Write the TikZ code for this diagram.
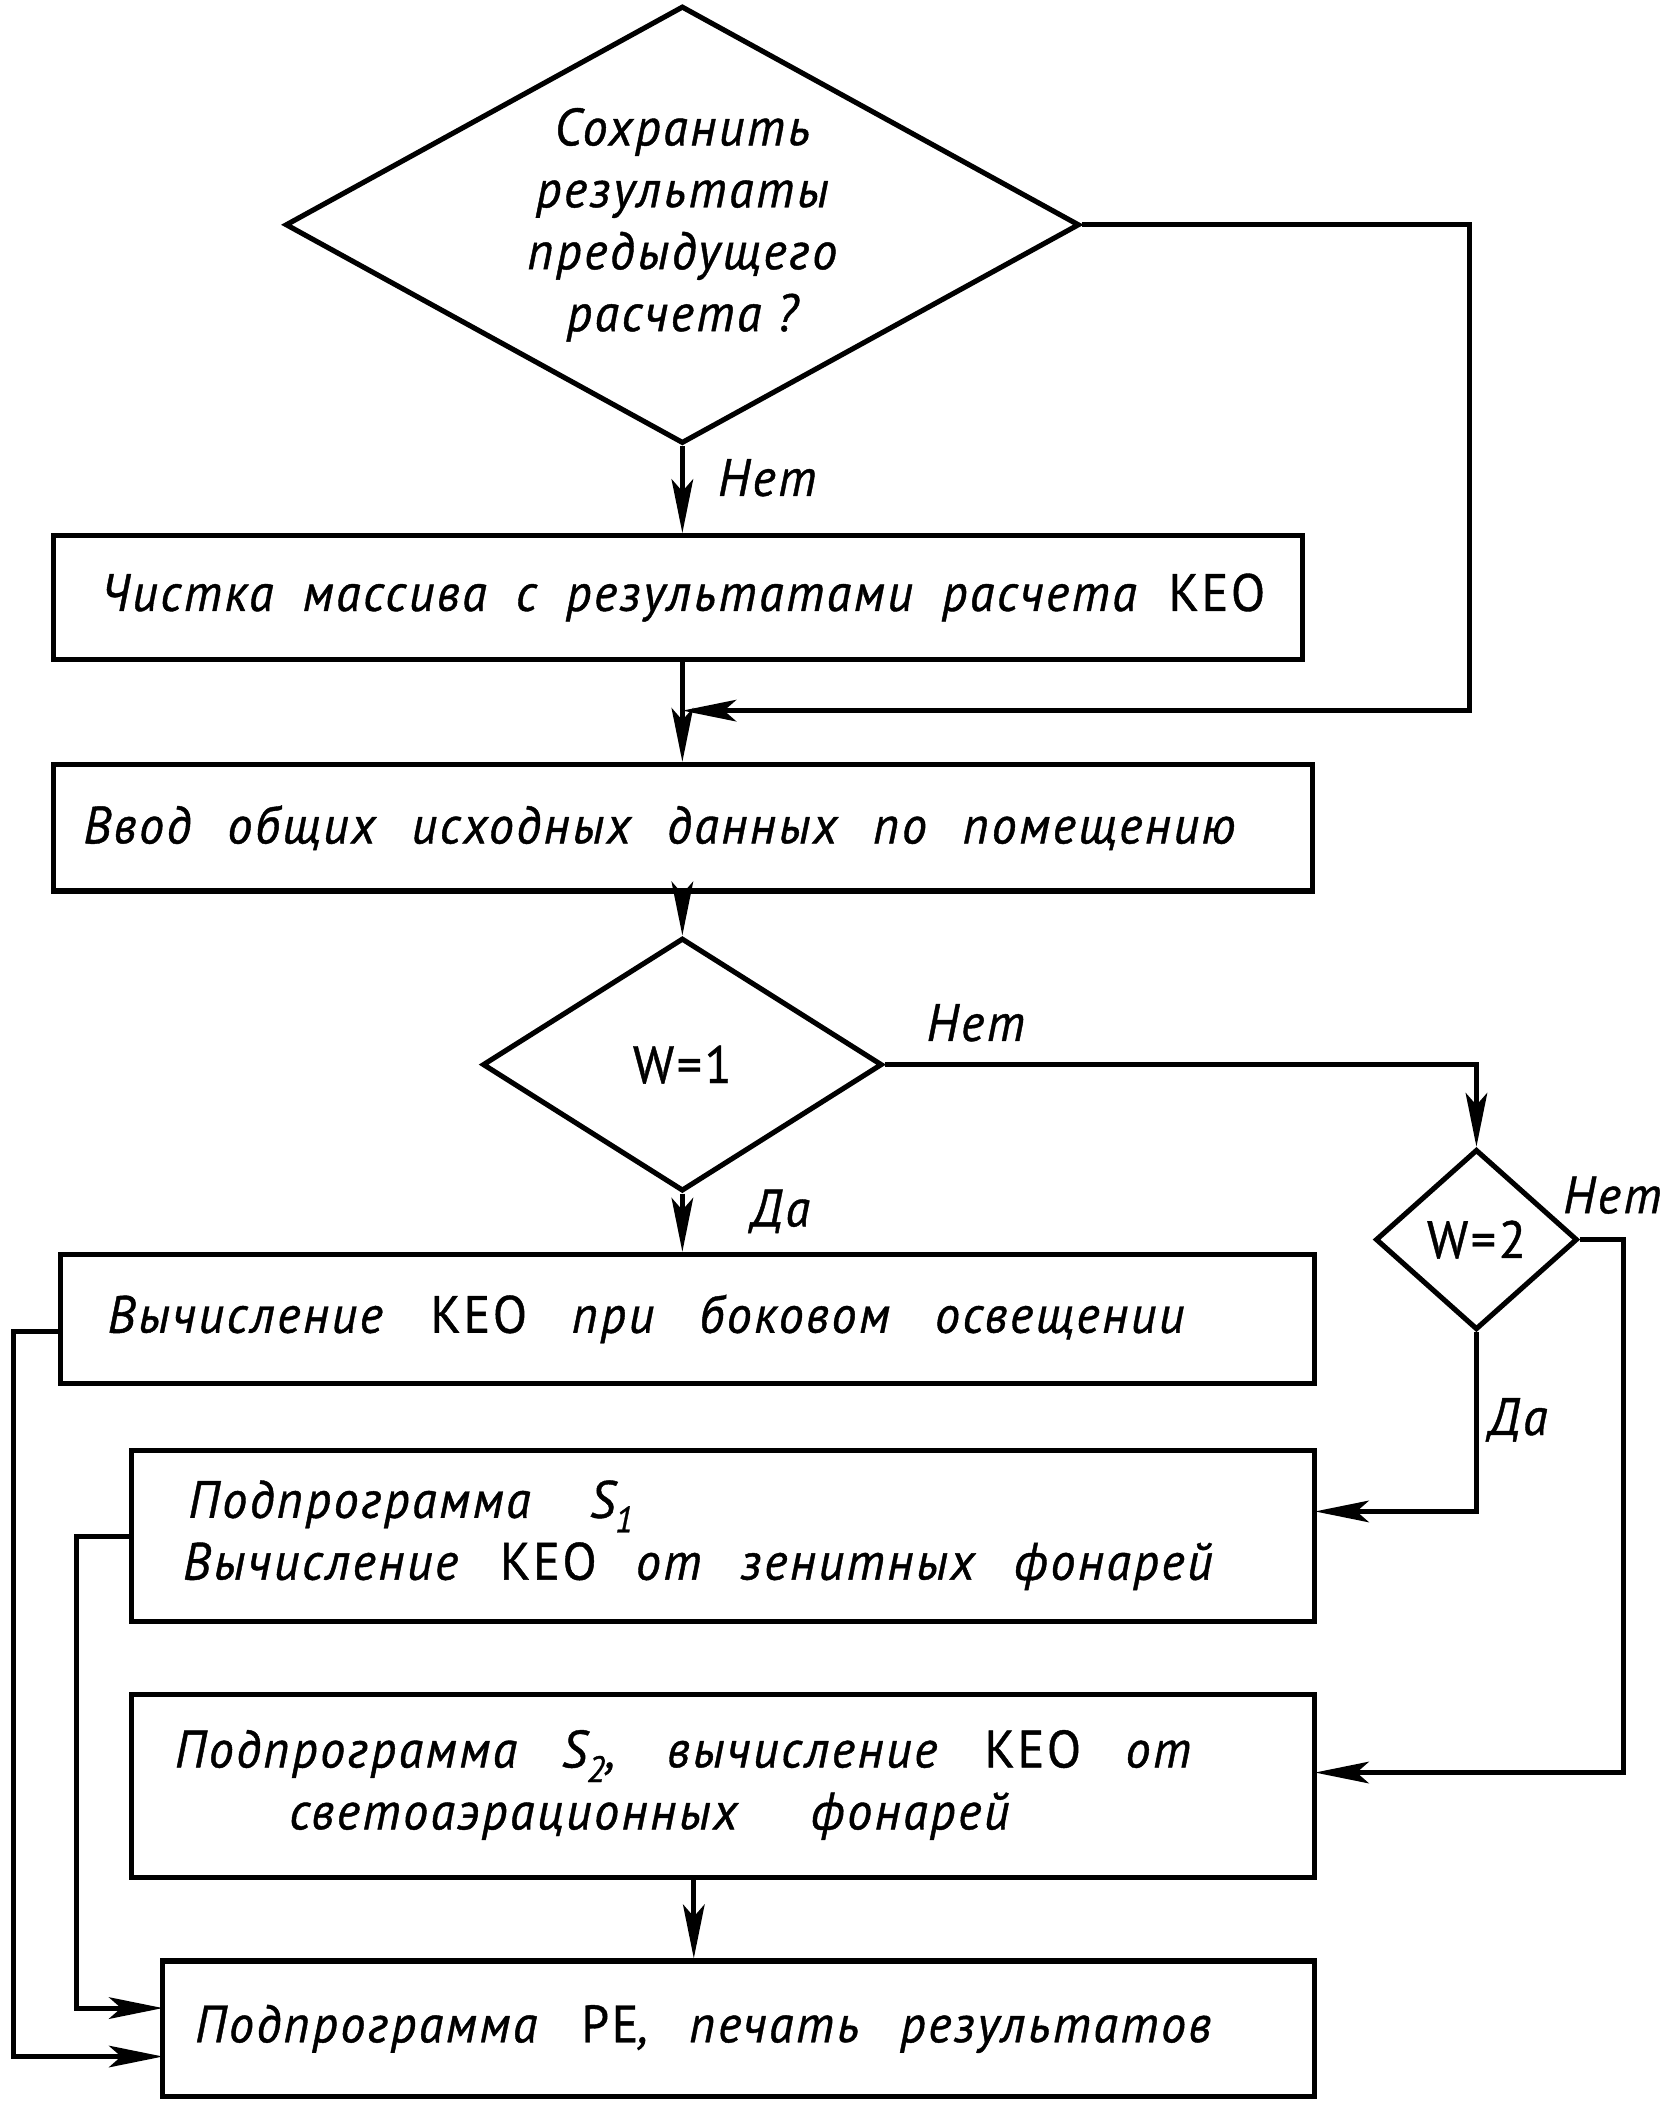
\documentclass[tikz,border=0pt]{standalone}
\usepackage{fontspec}
\setmainfont{PT Sans}[FakeStretch=0.95,LetterSpace=5,FakeBold=0.8]
\usetikzlibrary{shapes.geometric,arrows.meta}
\newcommand\gosttext{\fontsize{39}{46}\selectfont\itshape}
\begin{document}
\begin{tikzpicture}[x=1pt,y=-1pt,
  ln/.style={line width=3.8pt},
  box/.style={draw,ln,rectangle,inner sep=0pt,font=\gosttext},
  dia/.style={draw,ln,diamond,inner sep=0pt,font=\gosttext},
  lbl/.style={font=\gosttext,inner sep=0pt},
  arr/.style={ln,-{Stealth[length=40pt,width=16pt,inset=9pt]}}]
\useasboundingbox (0,0) rectangle (1240,1567);

% decisions
\node[dia,aspect=1.8,minimum width=590pt,minimum height=325pt,align=center] (d1) at (507,167)
  {Сохранить\\результаты\\предыдущего\\расчета ?};
\node[dia,minimum width=297pt,minimum height=188pt] (d2) at (507,791) {\textup{W=1}};
\node[dia,minimum width=150pt,minimum height=134pt] (d3) at (1097,921) {\textup{W=2}};

% process boxes
\node[box,minimum width=928pt,minimum height=92pt] (b1) at (504,444)
  {\makebox[928pt][l]{\hspace*{35pt}\makebox[865pt][s]{Чистка массива с результатами расчета \textup{КЕО}}}};
\node[box,minimum width=935pt,minimum height=94pt] (b2) at (507.5,615)
  {\makebox[935pt][l]{\hspace*{22pt}\makebox[856pt][s]{Ввод общих исходных данных по помещению}}};
\node[box,minimum width=932pt,minimum height=96pt] (b3) at (511,980)
  {\makebox[932pt][l]{\hspace*{35pt}\makebox[800pt][s]{Вычисление \textup{КЕО} при боковом освещении}}};
\node[box,minimum width=879pt,minimum height=127pt] (b4) at (537.5,1141.5)
  {\makebox[879pt][l]{\hspace*{38pt}\begin{tabular}{@{}l@{}}\hspace*{4pt}\makebox[331pt][s]{Подпрограмма \textit{S}\textsubscript{1}}\\
   \makebox[765pt][s]{Вычисление \textup{КЕО} от зенитных фонарей}\end{tabular}}};
\node[box,minimum width=879pt,minimum height=136pt] (b5) at (537.5,1327)
  {\makebox[879pt][l]{\hspace*{32pt}\begin{tabular}{@{}l@{}}\makebox[755pt][s]{Подпрограмма \textit{S}\textsubscript{2}, вычисление \textup{КЕО} от}\\
   \hspace*{85pt}\makebox[535pt][s]{светоаэрационных фонарей}\end{tabular}}};
\node[box,minimum width=856pt,minimum height=101pt] (b6) at (549,1507.5)
  {\makebox[856pt][l]{\hspace*{24pt}\makebox[755pt][s]{Подпрограмма \textup{PE}, печать результатов}}};

% labels
\node[lbl] (n1) at (570,355) {Нет};
\node[lbl] (n2) at (725,760) {Нет};
\node[lbl] (y1) at (580,900) {Да};
\node[lbl] (n3) at (1198,888) {Нет};
\node[lbl] (y2) at (1128,1055) {Да};

% helper coordinates
\coordinate (c1) at (1092,528);
\coordinate (m1) at (507,528);
\coordinate (a4) at (977,1123);
\coordinate (c5) at (1206,1317);
\coordinate (a5) at (977,1317);
\coordinate (e3) at (45,989);
\coordinate (l1) at (10,1528);
\coordinate (a6b) at (121,1528);
\coordinate (l2) at (57,1492);
\coordinate (a6a) at (121,1492);

% connectors
\draw[arr] (d1.south) -- (d1.south |- b1.north);
\draw[arr] (d1.south |- b1.south) -- (d1.south |- b2.north);
\draw[arr] (d1.east) -| (c1) -- (m1);
\draw[arr] (d2.north |- b2.south) -- (d2.north);
\draw[arr] (d2.east) -| (d3.north);
\draw[arr] (d2.south) -- (d2.south |- b3.north);
\draw[arr] (d3.south) |- (a4);
\draw[arr] (d3.east) -| (c5) -- (a5);
\draw[arr] ([xshift=-22pt]b5.south) -- ([xshift=-22pt]b5.south |- b6.north);
\draw[arr] (e3) -| (l1) -- (a6b);
\draw[arr] (b4.west) -| (l2) -- (a6a);
\end{tikzpicture}
\end{document}
